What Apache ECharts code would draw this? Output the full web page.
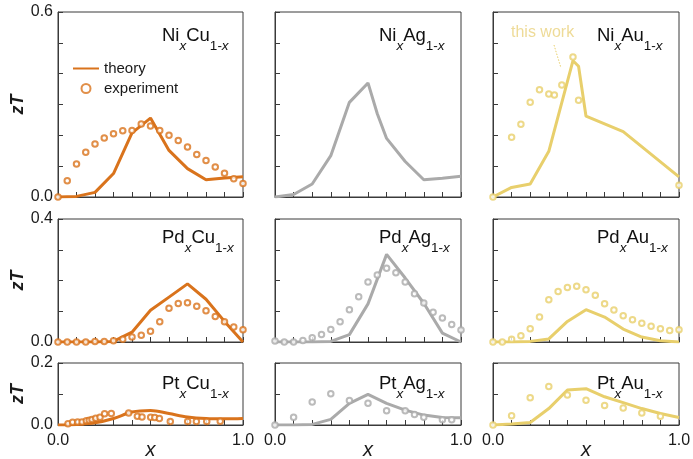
<!DOCTYPE html>
<html>
<head>
<meta charset="utf-8">
<script src="https://cdn.jsdelivr.net/npm/echarts@6/dist/echarts.min.js"></script>
<style>
html,body{margin:0;padding:0;background:#fff;}
#main{width:693px;height:459px;}
</style>
</head>
<body>
<div id="main"></div>
<script>
// 数据 (x, zT)
var xStep = [0,0.05,0.1,0.15,0.2,0.25,0.3,0.35,0.4,0.45,0.5,0.55,0.6,0.65,0.7,0.75,0.8,0.85,0.9,0.95,1.0];

var niCuTheory = [[0,0],[0.1,0.002],[0.2,0.015],[0.3,0.076],[0.4,0.208],[0.5,0.256],[0.6,0.151],[0.7,0.092],[0.8,0.056],[0.9,0.062],[1.0,0.066]];
var niCuExp = [0,0.053,0.107,0.145,0.172,0.191,0.205,0.215,0.216,0.237,0.230,0.216,0.2,0.183,0.162,0.138,0.118,0.097,0.077,0.059,0.044];

var niAgTheory = [[0,0],[0.1,0.008],[0.2,0.042],[0.3,0.134],[0.4,0.307],[0.5,0.370],[0.55,0.27],[0.6,0.19],[0.7,0.115],[0.8,0.056],[0.9,0.061],[1.0,0.067]];

var niAuTheory = [[0,0],[0.1,0.031],[0.2,0.042],[0.3,0.148],[0.43,0.442],[0.46,0.424],[0.5,0.262],[0.7,0.212],[1.0,0.065]];
var niAuExp = [[0,0],[0.1,0.194],[0.15,0.236],[0.2,0.307],[0.25,0.348],[0.3,0.334],[0.33,0.331],[0.37,0.363],[0.43,0.454],[0.46,0.314],[1.0,0.038]];

var pdCuTheory = [[0,0],[0.1,0],[0.2,0],[0.3,0.002],[0.4,0.032],[0.5,0.103],[0.6,0.146],[0.7,0.189],[0.8,0.139],[0.9,0.067],[1.0,0]];
var pdCuExp = [0,0,0,0,0.002,0.002,0.004,0.009,0.016,0.022,0.035,0.066,0.11,0.125,0.128,0.116,0.102,0.083,0.066,0.049,0.04];

var pdAgTheory = [[0,0],[0.1,0],[0.2,0],[0.3,0.002],[0.4,0.024],[0.5,0.124],[0.6,0.285],[0.7,0.208],[0.8,0.126],[0.9,0.029],[1.0,0]];
var pdAgExp = [0.003,0,0,0.005,0.014,0.024,0.041,0.066,0.105,0.147,0.195,0.218,0.24,0.225,0.195,0.157,0.127,0.097,0.078,0.057,0.039];

var pdAuTheory = [[0,0],[0.1,0],[0.2,0.002],[0.3,0.01],[0.4,0.067],[0.5,0.105],[0.6,0.081],[0.7,0.042],[0.8,0.016],[0.9,0.004],[1.0,0]];
var pdAuExp = [0,0,0.009,0.02,0.043,0.081,0.137,0.164,0.177,0.181,0.17,0.152,0.124,0.104,0.085,0.072,0.061,0.051,0.043,0.037,0.04];

var ptCuTheory = [[0,0],[0.1,0.002],[0.2,0.007],[0.3,0.021],[0.4,0.042],[0.5,0.047],[0.6,0.037],[0.7,0.026],[0.8,0.021],[0.9,0.020],[1.0,0.021]];
var ptCuExp = [[0.054,0.004],[0.079,0.009],[0.106,0.01],[0.13,0.01],[0.153,0.014],[0.169,0.015],[0.184,0.018],[0.204,0.022],[0.227,0.025],[0.252,0.036],[0.288,0.037],[0.382,0.039],[0.429,0.028],[0.454,0.026],[0.501,0.025],[0.523,0.024],[0.548,0.021],[0.607,0.011],[0.701,0.011],[0.748,0.011],[0.804,0.011],[0.877,0.012]];

var ptAgTheory = [[0,0],[0.1,0],[0.2,0.002],[0.3,0.018],[0.4,0.07],[0.5,0.099],[0.6,0.07],[0.7,0.048],[0.8,0.032],[0.9,0.024],[1.0,0.023]];
var ptAgExp = [[0,0],[0.1,0.025],[0.2,0.074],[0.3,0.101],[0.4,0.079],[0.5,0.07],[0.6,0.046],[0.7,0.046],[0.75,0.034],[0.8,0.025],[0.9,0.017],[0.95,0.017]];

var ptAuTheory = [[0,0],[0.1,0.003],[0.2,0.008],[0.3,0.053],[0.4,0.113],[0.5,0.117],[0.6,0.091],[0.7,0.072],[0.8,0.053],[0.9,0.037],[1.0,0.024]];
var ptAuExp = [[0,0],[0.1,0.03],[0.2,0.088],[0.3,0.124],[0.4,0.097],[0.5,0.08],[0.6,0.063],[0.7,0.055],[0.8,0.039],[0.9,0.028]];

var rowMax = [0.6, 0.4, 0.2];
var rowNames = ['Ni', 'Pd', 'Pt'];
var colNames = ['Cu', 'Ag', 'Au'];

// 把等间隔的实验点配上 x
function pair(ys){
    return ys.map(function(y, i){ return [xStep[i], y]; });
}

var panels = [
    {theory: niCuTheory, exp: pair(niCuExp)},
    {theory: niAgTheory, exp: []},
    {theory: niAuTheory, exp: niAuExp},
    {theory: pdCuTheory, exp: pair(pdCuExp)},
    {theory: pdAgTheory, exp: pair(pdAgExp)},
    {theory: pdAuTheory, exp: pair(pdAuExp)},
    {theory: ptCuTheory, exp: ptCuExp, smooth: true},
    {theory: ptAgTheory, exp: ptAgExp},
    {theory: ptAuTheory, exp: ptAuExp}
];

// 布局
var colors = ['#d9731c', '#aaaaaa', '#e8cf6c'];
var colLeft = [58, 275, 493];
var colWidth = [185, 186, 186];
var rowTop = [12, 219, 363];
var rowHeight = [185, 123, 62];
var titleTop = [26, 228, 374];
var frame = '#3a3a3a';
var font = 'Liberation Sans, Arial, sans-serif';

var grids = [], xAxes = [], yAxes = [], series = [], titles = [];

var mainTok = {fontSize: 18.5, fontWeight: 'normal', lineHeight: 20, verticalAlign: 'top', color: '#111', fontFamily: font};
var subTok = {fontSize: 13.5, fontWeight: 'normal', verticalAlign: 'top', padding: [13, 0, 0, 0], color: '#111', fontFamily: font};

panels.forEach(function(p, i){
    var r = Math.floor(i / 3), c = i % 3;
    var color = colors[c];
    grids.push({
        left: colLeft[c], top: rowTop[r], width: colWidth[c], height: rowHeight[r],
        outerBoundsMode: 'none',
        show: true, borderColor: frame, borderWidth: 1
    });
    xAxes.push({
        gridIndex: i, type: 'value', min: 0, max: 1, interval: 0.1,
        axisLine: {lineStyle: {color: frame}},
        axisTick: {inside: true, length: 5, lineStyle: {color: frame}},
        splitLine: {show: false},
        axisLabel: {
            show: r === 2, fontSize: 16, color: '#1a1a1a', margin: 8, fontFamily: font,
            showMinLabel: true, showMaxLabel: true,
            formatter: function(v){
                if (v === 0) return '0.0';
                if (Math.abs(v - 1) < 1e-6) return '1.0';
                return '';
            }
        },
        name: r === 2 ? 'x' : '', nameLocation: 'middle', nameGap: 15, nameMoveOverlap: false,
        nameTextStyle: {fontStyle: 'italic', fontSize: 20, color: '#1a1a1a', fontFamily: font}
    });
    yAxes.push({
        gridIndex: i, type: 'value', min: 0, max: rowMax[r], interval: 0.1,
        axisLine: {lineStyle: {color: frame}},
        axisTick: {inside: true, length: 5, lineStyle: {color: frame}},
        splitLine: {show: false},
        axisLabel: {
            show: c === 0, fontSize: 16, color: '#1a1a1a', margin: 5, fontFamily: font,
            padding: [3, 0, 0, 0],
            showMinLabel: true, showMaxLabel: true,
            formatter: function(v){
                if (v === 0) return '0.0';
                if (Math.abs(v - rowMax[r]) < 1e-6) return rowMax[r].toFixed(1);
                return '';
            }
        },
        name: c === 0 ? 'zT' : '', nameLocation: 'middle', nameGap: 31, nameMoveOverlap: false,
        nameTextStyle: {fontStyle: 'italic', fontWeight: 'bold', fontSize: 18, color: '#1a1a1a', fontFamily: font}
    });
    series.push({
        name: i === 0 ? 'theory' : 'theory ' + i,
        type: 'line', xAxisIndex: i, yAxisIndex: i,
        data: p.theory, symbol: 'none', smooth: p.smooth ? 0.35 : false,
        lineStyle: {color: color, width: 3}, itemStyle: {color: color}, z: 2
    });
    if (p.exp.length) {
        series.push({
            name: i === 0 ? 'experiment' : 'experiment ' + i,
            type: 'scatter', xAxisIndex: i, yAxisIndex: i,
            data: p.exp, symbol: 'emptyCircle', symbolSize: 5.5,
            itemStyle: {color: color, borderColor: color, borderWidth: 1.4}, z: 3
        });
    }
    titles.push({
        text: '{n|' + rowNames[r] + '}{si|x}{n|' + colNames[c] + '}{s|1-}{si|x}',
        left: colLeft[c] + 104, top: titleTop[r], padding: 0,
        textStyle: {
            fontWeight: 'normal',
            rich: {
                n: mainTok,
                s: subTok,
                si: Object.assign({}, subTok, {fontStyle: 'italic'})
            }
        }
    });
});

var chart = echarts.init(document.getElementById('main'));
chart.setOption({
    animation: false,
    textStyle: {fontFamily: font},
    title: titles,
    legend: {
        data: [
            {name: 'theory', itemStyle: {opacity: 0}},
            'experiment'
        ],
        orient: 'vertical', left: 67, top: 56, itemGap: 5,
        itemWidth: 26, itemHeight: 9,
        textStyle: {fontSize: 15, color: '#1a1a1a', fontFamily: font}
    },
    grid: grids,
    xAxis: xAxes,
    yAxis: yAxes,
    series: series,
    graphic: [
        {type: 'text', left: 511, top: 25, style: {text: 'this work', fill: '#eedb98', font: '16px ' + font}},
        {type: 'line', shape: {x1: 554, y1: 45, x2: 561, y2: 68}, style: {stroke: '#e8cf6c', lineWidth: 1, lineDash: [1.5, 1.5]}}
    ]
});
</script>
</body>
</html>
